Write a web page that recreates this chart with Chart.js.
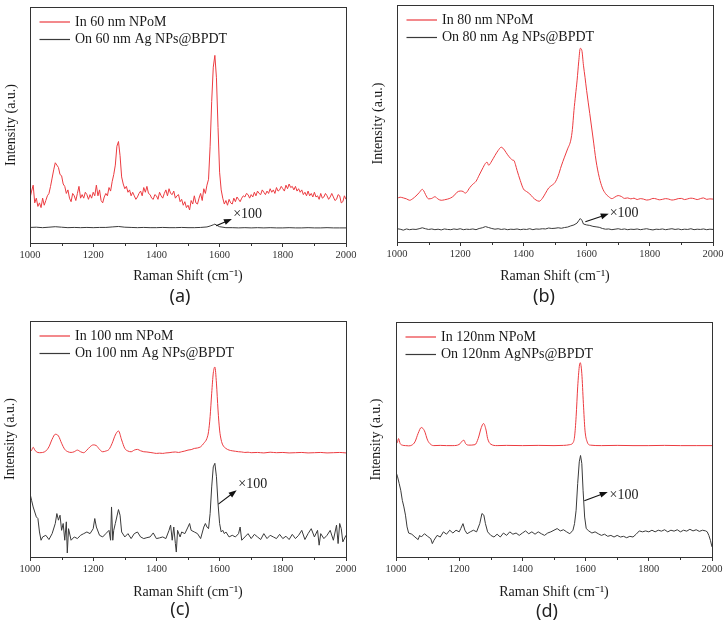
<!DOCTYPE html>
<html><head><meta charset="utf-8">
<script src="https://cdn.jsdelivr.net/npm/chart.js@4/dist/chart.umd.min.js"></script>
<style>
html,body{margin:0;padding:0;background:#fff}
body{width:728px;height:629px;position:relative;overflow:hidden}
canvas{position:absolute}
.lab{position:absolute;font-family:"Noto Sans",sans-serif;font-size:18px;color:#222;transform:translate(-50%,-50%);white-space:nowrap}
</style></head><body>
<canvas id="ca" width="364" height="310" style="left:0;top:0"></canvas>
<canvas id="cb" width="364" height="310" style="left:364px;top:0"></canvas>
<canvas id="cc" width="364" height="319" style="left:0;top:310px"></canvas>
<canvas id="cd" width="364" height="319" style="left:364px;top:310px"></canvas>
<div class="lab" style="left:180px;top:295px">(a)</div>
<div class="lab" style="left:544px;top:295px">(b)</div>
<div class="lab" style="left:180px;top:608px">(c)</div>
<div class="lab" style="left:547px;top:610px">(d)</div>
<script>
// ---------- data (Raman shift cm^-1, intensity a.u.) ----------
const xTickLabels = [1000, 1200, 1400, 1600, 1800, 2000];
const legendA = ["In 60 nm NPoM", "On 60 nm Ag NPs@BPDT"];
const legendB = ["In 80 nm NPoM", "On 80 nm Ag NPs@BPDT"];
const legendC = ["In 100 nm NPoM", "On 100 nm Ag NPs@BPDT"];
const legendD = ["In 120nm NPoM", "On 120nm AgNPs@BPDT"];
const scaleNote = "×100";

const redA = [[1000,19],[1005,22],[1010,24.5],[1015,17],[1020,19],[1025,15.5],[1030,17],[1035,15],[1040,19],[1045,16],[1050,18],[1055,20],[1060,21],[1065,24],[1070,27.5],[1075,31],[1080,34],[1085,33],[1090,32],[1095,29],[1100,28.5],[1105,25],[1110,24],[1115,21],[1120,22.5],[1125,19],[1130,17.5],[1135,21],[1140,20],[1145,18],[1150,21],[1155,24],[1160,19],[1165,20.5],[1170,19],[1175,21.5],[1180,20.5],[1185,18.5],[1190,20.5],[1195,19],[1200,21.5],[1205,20],[1210,24.5],[1215,20],[1220,22.5],[1225,18],[1230,17],[1235,19.5],[1240,21],[1245,20],[1250,23.5],[1255,22],[1260,26],[1265,29],[1270,33],[1275,41],[1280,43],[1285,37],[1290,28],[1295,25],[1300,23],[1305,24],[1310,21.5],[1315,22.5],[1320,20],[1325,21.5],[1330,20],[1335,18.5],[1340,19.5],[1345,21],[1350,22],[1355,20],[1360,23.5],[1365,21.5],[1370,24],[1375,21],[1380,20.5],[1385,19],[1390,18.5],[1395,20.5],[1400,20],[1405,18.5],[1410,21.5],[1415,20],[1420,19],[1425,21],[1430,22.5],[1435,20],[1440,23],[1445,21],[1450,20.5],[1455,22],[1460,19],[1465,20],[1470,20.5],[1475,17.5],[1480,18.5],[1485,16],[1490,17.5],[1495,15],[1500,16],[1505,14],[1510,18],[1515,16.5],[1520,20],[1525,17],[1530,16.5],[1535,19],[1540,21],[1545,18],[1550,23],[1555,21],[1560,24.5],[1565,27],[1570,41],[1575,60],[1580,74.5],[1585,79.5],[1590,70],[1595,49],[1600,30],[1605,22.5],[1610,19],[1615,16.5],[1620,18],[1625,16],[1630,18.5],[1635,17],[1640,16.5],[1645,19],[1650,17.5],[1655,19.5],[1660,18.5],[1665,17.5],[1670,19],[1675,20],[1680,19.5],[1685,21],[1690,20.5],[1695,19],[1700,20.5],[1705,19.5],[1710,21.5],[1715,20],[1720,22],[1725,21],[1730,20.5],[1735,22.5],[1740,21.5],[1745,20.5],[1750,22],[1755,21],[1760,23],[1765,21.5],[1770,22.5],[1775,21],[1780,23.5],[1785,22],[1790,22.5],[1795,24],[1800,23],[1805,22],[1810,24.5],[1815,23],[1820,25],[1825,23.5],[1830,24],[1835,22.5],[1840,24],[1845,22],[1850,23],[1855,21.5],[1860,22.5],[1865,20.5],[1870,21.5],[1875,20],[1880,22],[1885,20],[1890,21],[1895,19.5],[1900,21.5],[1905,19.5],[1910,20],[1915,18.5],[1920,21],[1925,19],[1930,19.5],[1935,21],[1940,20],[1945,18.5],[1950,19.5],[1955,21],[1960,19.5],[1965,18],[1970,18.5],[1975,20.5],[1980,20],[1985,17],[1990,17.5],[1995,20],[2000,18.5]];
const blackA = [[1000,6.6],[1020,6.7],[1040,6.5],[1060,6.7],[1080,6.9],[1100,6.7],[1120,6.5],[1140,6.6],[1160,6.5],[1180,6.6],[1200,6.5],[1220,6.6],[1240,6.6],[1260,6.8],[1280,7.0],[1300,6.7],[1320,6.6],[1340,6.5],[1360,6.6],[1380,6.5],[1400,6.5],[1420,6.6],[1440,6.5],[1460,6.5],[1480,6.6],[1500,6.5],[1520,6.5],[1540,6.6],[1560,6.8],[1570,7.2],[1580,7.7],[1585,8.0],[1590,7.6],[1600,6.9],[1620,6.5],[1640,6.5],[1660,6.4],[1680,6.5],[1700,6.4],[1720,6.5],[1740,6.4],[1760,6.5],[1780,6.4],[1800,6.4],[1820,6.5],[1840,6.4],[1860,6.4],[1880,6.5],[1900,6.4],[1920,6.4],[1940,6.5],[1960,6.4],[1980,6.4],[2000,6.4]];

const redB = [[1000,18.4],[1010,18.9],[1020,18.6],[1030,18.2],[1040,17.6],[1050,18.3],[1060,19.4],[1070,20.8],[1080,22.2],[1085,21.5],[1090,20.1],[1100,18.2],[1110,18.4],[1120,19.1],[1130,18.1],[1140,17.6],[1150,17.8],[1160,18.1],[1170,18.6],[1180,19.5],[1190,21],[1200,21.5],[1210,21.3],[1215,20.6],[1220,20.9],[1230,22.9],[1240,24.4],[1250,25.6],[1260,28.2],[1270,30.8],[1280,33.2],[1285,33.7],[1290,32.4],[1300,34.2],[1310,36.5],[1320,38.6],[1330,40],[1335,39.6],[1340,38.8],[1350,36.8],[1360,35.2],[1365,34.6],[1370,34.4],[1375,32.6],[1380,30.2],[1390,26],[1400,22.4],[1410,21.3],[1420,20.3],[1430,18.8],[1440,17.7],[1450,17.2],[1460,18.4],[1470,20.6],[1480,22.8],[1490,23.9],[1500,25.1],[1510,27.9],[1520,32.1],[1530,35.8],[1540,39.3],[1550,43],[1555,47.5],[1560,55.5],[1565,62],[1570,68.3],[1575,76],[1580,81.7],[1585,80.8],[1590,74.6],[1595,69.5],[1600,64],[1610,54.2],[1620,44.3],[1630,34.2],[1640,27.3],[1650,22.8],[1660,20.4],[1670,19.1],[1680,18.3],[1690,19],[1700,19.6],[1710,19.2],[1720,18.4],[1730,18.6],[1740,18.2],[1750,18.5],[1760,17.9],[1770,18.3],[1780,18.1],[1790,17.7],[1800,17.9],[1810,18.4],[1820,18.2],[1830,17.8],[1840,18],[1850,18.3],[1860,18.1],[1870,17.7],[1880,17.9],[1890,18.3],[1900,18.4],[1910,17.9],[1920,18.2],[1930,18.5],[1940,18.3],[1950,17.9],[1960,18.3],[1970,18.6],[1980,18],[1990,18.2],[2000,18.1]];
const blackB = [[1000,5.6],[1010,5.4],[1020,5.0],[1030,5.5],[1040,5.2],[1050,5.4],[1060,5.3],[1070,5.6],[1080,6.0],[1090,5.6],[1100,5.3],[1110,5.5],[1120,5.2],[1130,5.4],[1140,5.1],[1150,5.5],[1160,5.3],[1170,5.2],[1180,5.5],[1190,5.3],[1200,5.6],[1210,5.2],[1220,5.4],[1230,5.3],[1240,5.5],[1250,5.2],[1260,5.7],[1270,6.0],[1280,6.5],[1290,6.1],[1300,5.7],[1310,5.4],[1320,5.6],[1330,5.3],[1340,5.5],[1350,5.2],[1360,5.4],[1370,5.3],[1380,5.5],[1390,5.2],[1400,5.4],[1410,5.3],[1420,5.6],[1430,5.2],[1440,5.5],[1450,5.4],[1460,5.6],[1470,5.5],[1480,5.9],[1490,5.7],[1500,5.8],[1510,6.0],[1520,5.8],[1530,6.1],[1540,6.3],[1550,6.8],[1560,7.2],[1570,8.0],[1575,9.0],[1580,9.9],[1585,9.2],[1590,7.6],[1600,7.2],[1610,7.0],[1620,6.6],[1630,6.4],[1640,6.2],[1650,5.7],[1660,5.4],[1670,5.5],[1680,5.2],[1690,5.4],[1700,5.6],[1710,5.3],[1720,5.5],[1730,5.2],[1740,5.4],[1750,5.3],[1760,5.5],[1770,5.2],[1780,5.4],[1790,5.6],[1800,5.3],[1810,5.1],[1820,5.4],[1830,5.3],[1840,5.5],[1850,5.2],[1860,5.4],[1870,5.6],[1880,5.3],[1890,5.5],[1900,5.2],[1910,5.4],[1920,5.3],[1930,5.6],[1940,5.2],[1950,5.4],[1960,5.3],[1970,5.5],[1980,5.2],[1990,5.4],[2000,5.3]];

const redC = [[1000,44.6],[1005,45.2],[1010,46.5],[1015,45.4],[1020,44.6],[1030,44.2],[1040,44.3],[1050,44.9],[1060,46.7],[1070,49.9],[1080,52],[1090,51.3],[1100,48.2],[1110,45.6],[1120,44.6],[1130,44.3],[1140,44.6],[1150,45.3],[1160,44.6],[1170,44.2],[1180,45.3],[1190,46.7],[1200,47.5],[1210,47.2],[1220,45.6],[1230,44.6],[1240,44.9],[1250,45.6],[1260,48.2],[1270,51.7],[1280,53.4],[1290,49.6],[1300,46],[1310,44.9],[1320,44.6],[1330,45.3],[1340,45.6],[1350,45],[1360,44.6],[1370,44.5],[1380,44.3],[1390,44.1],[1400,43.9],[1410,44],[1420,43.9],[1430,44.1],[1440,44.2],[1450,44.4],[1460,44.5],[1470,44.3],[1480,44.6],[1490,44.9],[1500,45.3],[1510,45.5],[1520,46],[1530,46.2],[1540,46.7],[1550,48.2],[1560,50.3],[1565,53.1],[1570,59.5],[1575,69.4],[1580,77.9],[1585,80.5],[1590,73.7],[1595,62.3],[1600,53.8],[1605,49.6],[1610,47.5],[1620,46],[1630,45.3],[1640,45],[1650,44.8],[1660,44.6],[1670,44.5],[1680,44.3],[1690,44.4],[1700,44.2],[1720,44.3],[1740,44.1],[1760,44.4],[1780,44.2],[1800,44.3],[1820,44.1],[1840,44.2],[1860,44.3],[1880,44.1],[1900,44.2],[1920,44.3],[1940,44.1],[1960,44.2],[1980,44.3],[2000,44.1]];
const blackC = [[1000,26.9],[1005,24],[1010,21.2],[1020,17],[1025,16.3],[1030,10.6],[1035,7.1],[1040,8.5],[1050,9.2],[1060,7.4],[1070,9.9],[1080,14.2],[1085,18.4],[1090,15.6],[1095,17.7],[1100,11.3],[1105,14.2],[1110,7.1],[1115,14.9],[1118,1.7],[1122,12],[1130,7.1],[1140,8.5],[1150,7.8],[1160,9.2],[1170,9.9],[1180,10.6],[1190,9.9],[1200,12],[1205,16.3],[1210,12.7],[1220,9.2],[1230,8.5],[1240,9.9],[1250,11.3],[1255,7.1],[1258,21.2],[1262,7.1],[1265,11.3],[1270,14.2],[1280,20.1],[1285,17.7],[1290,10.6],[1300,8.5],[1310,9.9],[1320,7.8],[1330,9.9],[1340,10.6],[1350,8.5],[1360,7.8],[1370,8.2],[1380,8.5],[1390,10.2],[1400,7.8],[1410,8.1],[1420,8.5],[1430,7.8],[1440,11.3],[1445,13.5],[1450,7.1],[1455,12.7],[1460,5.7],[1463,2.1],[1467,11.3],[1475,8.5],[1480,10.6],[1490,9.9],[1500,12.7],[1505,14.2],[1510,11.3],[1520,10.6],[1530,9.9],[1540,7.8],[1550,12.7],[1555,14.2],[1560,12.7],[1565,12],[1570,18.4],[1575,29.7],[1580,38.2],[1585,39.7],[1590,34],[1595,22.7],[1600,14.2],[1605,10.6],[1610,11.3],[1615,9.9],[1620,10.6],[1630,8.5],[1640,9.2],[1650,8.5],[1660,9.9],[1665,12.7],[1670,7.1],[1680,8.5],[1690,9.9],[1700,7.8],[1710,9.6],[1720,8.5],[1730,7.4],[1740,9.9],[1750,7.8],[1760,9.2],[1770,8.5],[1780,7.8],[1790,9.6],[1800,7.8],[1810,8.8],[1820,7.4],[1830,9.6],[1840,7.8],[1850,9.2],[1860,11.3],[1870,7.4],[1880,9.9],[1890,12],[1900,8.5],[1910,11.3],[1915,5],[1920,9.9],[1930,7.8],[1940,9.2],[1950,11.3],[1960,7.1],[1970,13.5],[1975,5.7],[1980,14.2],[1985,12],[1990,6.4],[2000,9.2]];

const redD = [[1000,48],[1005,49],[1008,50.4],[1013,48.3],[1020,47.6],[1030,47.4],[1040,47.3],[1050,47.6],[1060,49],[1070,52.6],[1080,55.1],[1090,53.7],[1100,49.7],[1110,47.9],[1120,47.4],[1140,47.5],[1160,47.4],[1180,47.4],[1200,47.9],[1210,49.4],[1215,49.7],[1220,48.3],[1230,47.6],[1250,47.8],[1260,50.4],[1270,55.1],[1277,56.8],[1285,54],[1290,50.4],[1300,48],[1320,47.4],[1350,47.5],[1400,47.4],[1450,47.5],[1500,47.4],[1530,47.5],[1550,47.8],[1560,48.6],[1565,51.1],[1570,59.7],[1575,72.4],[1580,81],[1583,82.7],[1588,78.1],[1593,65.3],[1598,54],[1605,49],[1615,47.6],[1650,47.4],[1700,47.5],[1750,47.4],[1800,47.4],[1850,47.5],[1900,47.4],[1950,47.4],[2000,47.4]];
const blackD = [[1000,36.2],[1005,34.1],[1010,31.3],[1015,28.4],[1020,24.1],[1025,21.3],[1030,17.8],[1035,12.8],[1040,10.2],[1050,9.7],[1060,8.5],[1070,7.4],[1075,9.2],[1080,8.5],[1090,9.9],[1100,8.8],[1110,7.8],[1115,5.7],[1120,7.1],[1130,9.2],[1140,8.5],[1150,10.7],[1160,9.7],[1170,11.4],[1180,10.2],[1190,11.4],[1200,10.7],[1205,12.1],[1212,14.2],[1218,11.4],[1225,9.9],[1235,10.7],[1245,11.4],[1255,10.7],[1265,14.2],[1272,18.5],[1278,17.8],[1283,14.2],[1290,10.7],[1300,9.2],[1310,8.5],[1320,9.7],[1330,8.5],[1340,10.2],[1350,9.2],[1360,10.7],[1370,9.7],[1380,10.2],[1390,9.2],[1400,10.2],[1410,11.1],[1420,9.9],[1430,10.7],[1440,9.7],[1450,10.7],[1460,9.9],[1470,9.2],[1480,10.2],[1490,10.7],[1500,11.4],[1510,12.1],[1520,11.1],[1530,11.6],[1540,10.7],[1550,9.9],[1560,11.4],[1565,14.2],[1570,19.9],[1575,31.3],[1580,40.5],[1584,43.2],[1588,39.8],[1592,28.4],[1597,17],[1602,12.1],[1610,11.1],[1620,10.2],[1630,10.7],[1640,9.9],[1650,9.2],[1660,9.7],[1670,8.8],[1680,9.2],[1690,8.5],[1700,9.2],[1710,8.5],[1720,8.8],[1730,8.2],[1740,8.8],[1750,8.5],[1760,9.7],[1770,11.1],[1780,10.7],[1790,11.1],[1800,10.7],[1810,11.4],[1820,10.7],[1830,11.4],[1840,11],[1850,11.6],[1860,10.7],[1870,11.4],[1880,11],[1890,11.6],[1900,10.7],[1910,11.4],[1920,11],[1930,11.8],[1940,11.1],[1950,11.6],[1960,10.9],[1970,11.4],[1980,11.1],[1985,10.7],[1990,9.2],[1995,7.1],[2000,4.3]];

// ---------- styling / layout ----------
const RED = '#ec3b40';
const BLK = '#3a3a3a';
const AX = '#333333';
const SERIF = '"Liberation Serif","Times New Roman",serif';
Chart.defaults.font.family = SERIF;

const framePlugin = {
  id: 'frame',
  afterDraw(chart) {
    const {ctx, chartArea: a, scales: {x}} = chart;
    ctx.save();
    ctx.strokeStyle = AX; ctx.lineWidth = 1;
    ctx.strokeRect(Math.round(a.left) + 0.5, Math.round(a.top) + 0.5, Math.round(a.right - a.left), Math.round(a.bottom - a.top));
    ctx.beginPath();
    for (let v = 1100; v < 2000; v += 200) {
      const px = Math.round(x.getPixelForValue(v)) + 0.5;
      ctx.moveTo(px, Math.round(a.bottom) + 0.5);
      ctx.lineTo(px, Math.round(a.bottom) + 3);
    }
    ctx.stroke();
    ctx.restore();
  }
};

const extrasPlugin = {
  id: 'extras',
  afterDatasetsDraw(chart, args, opts) {
    const {ctx, chartArea: a, scales: {x, y}} = chart;
    ctx.save();
    ctx.font = '14px ' + SERIF;
    ctx.textBaseline = 'middle';
    ctx.textAlign = 'left';
    chart.data.datasets.forEach((ds, i) => {
      const yy = a.top + 15 + i * 17.5;
      ctx.strokeStyle = ds.borderColor; ctx.lineWidth = 1.2;
      ctx.beginPath(); ctx.moveTo(a.left + 9.5, yy); ctx.lineTo(a.left + 40, yy); ctx.stroke();
      ctx.fillStyle = '#1a1a1a';
      ctx.fillText(ds.label, a.left + 45, yy);
    });
    const ar = opts.arrow;
    const x1 = x.getPixelForValue(ar[0]), y1 = y.getPixelForValue(ar[1]);
    const x2 = x.getPixelForValue(ar[2]), y2 = y.getPixelForValue(ar[3]);
    const ang = Math.atan2(y2 - y1, x2 - x1);
    ctx.strokeStyle = '#111'; ctx.fillStyle = '#111'; ctx.lineWidth = 1.1;
    ctx.beginPath(); ctx.moveTo(x1, y1); ctx.lineTo(x2 - 5 * Math.cos(ang), y2 - 5 * Math.sin(ang)); ctx.stroke();
    ctx.beginPath();
    ctx.moveTo(x2, y2);
    ctx.lineTo(x2 - 8 * Math.cos(ang) + 3 * Math.sin(ang), y2 - 8 * Math.sin(ang) - 3 * Math.cos(ang));
    ctx.lineTo(x2 - 8 * Math.cos(ang) - 3 * Math.sin(ang), y2 - 8 * Math.sin(ang) + 3 * Math.cos(ang));
    ctx.closePath(); ctx.fill();
    ctx.font = '14px ' + SERIF;
    ctx.fillStyle = '#1a1a1a';
    ctx.fillText(scaleNote, x.getPixelForValue(opts.note[0]), y.getPixelForValue(opts.note[1]));
    ctx.restore();
  }
};

function toXY(arr) { return arr.map(p => ({x: p[0], y: p[1]})); }

function makePanel(id, red, black, labels, smoothRed, L, T, R, H, B, yTitlePad, xTitlePad, arrow, note) {
  new Chart(document.getElementById(id), {
    type: 'line',
    data: {
      datasets: [
        {label: labels[0], data: toXY(red), borderColor: RED, borderWidth: 1, pointRadius: 0,
         cubicInterpolationMode: smoothRed ? 'monotone' : 'default', tension: 0},
        {label: labels[1], data: toXY(black), borderColor: BLK, borderWidth: 1, pointRadius: 0, tension: 0}
      ]
    },
    options: {
      responsive: false, animation: false, devicePixelRatio: 1,
      layout: {padding: {left: 0, top: T, right: R, bottom: B}},
      plugins: {legend: {display: false}, tooltip: {enabled: false}, extras: {arrow, note}},
      scales: {
        x: {
          type: 'linear', min: 1000, max: 2000,
          afterBuildTicks: s => { s.ticks = xTickLabels.map(v => ({value: v})); },
          ticks: {font: {size: 10.5, family: SERIF}, color: '#333', padding: 2, maxRotation: 0, autoSkip: false,
                  callback: v => String(v)},
          grid: {display: true, drawOnChartArea: false, drawTicks: true, tickLength: 4, tickColor: AX, color: AX},
          border: {display: true, color: AX, width: 1},
          title: {display: true, text: 'Raman Shift (cm⁻¹)', font: {size: 14, family: SERIF}, color: '#1a1a1a', padding: {top: 0, bottom: xTitlePad}},
          afterFit: s => { s.height = H; }
        },
        y: {
          min: 0, max: 100,
          ticks: {display: false},
          grid: {display: false, drawTicks: false},
          border: {display: true, color: AX, width: 1},
          title: {display: true, text: 'Intensity (a.u.)', font: {size: 14, family: SERIF}, color: '#1a1a1a', padding: {top: yTitlePad, bottom: 0}},
          afterFit: s => { s.width = L; }
        }
      }
    },
    plugins: [framePlugin, extrasPlugin]
  });
}

makePanel('ca', redA, blackA, legendA, false, 30, 7, 18, 45, 22, 3, 3, [1589, 7.3, 1639, 10.2], [1643, 12.0]);
makePanel('cb', redB, blackB, legendB, true, 33, 5, 15, 46, 22, 6, 3, [1596, 8.5, 1670, 11.9], [1673, 12.3]);
makePanel('cc', redC, blackC, legendC, true, 30, 11, 18, 47, 25, 2, 3, [1596, 22.4, 1654, 28.3], [1659, 30.7]);
makePanel('cd', redD, blackD, legendD, true, 32, 12, 16, 47, 25, 4, 3, [1596, 23.9, 1670, 27.7], [1676, 26.3]);
</script>
</body></html>
